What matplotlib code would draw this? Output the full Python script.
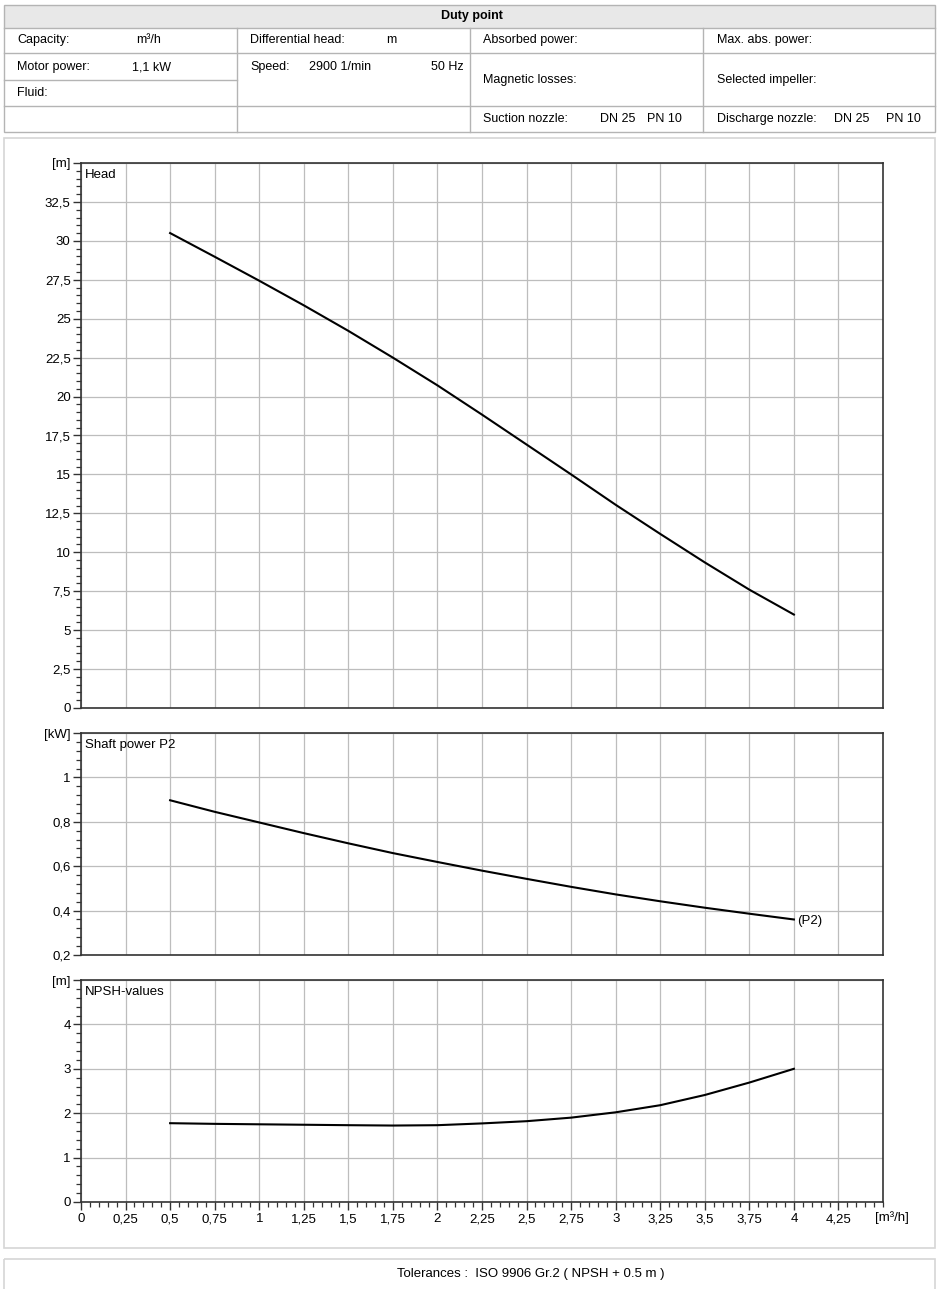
import numpy as np
from matplotlib import pyplot as plt
from matplotlib.patches import Rectangle
from matplotlib.ticker import MultipleLocator, FixedLocator, FixedFormatter

plt.rcParams["font.family"] = ["Liberation Sans", "DejaVu Sans"]
plt.rcParams["font.size"] = 9.5

# Courbes de la pompe (débit en m³/h)
flow = [0.5, 0.75, 1.0, 1.25, 1.5, 1.75, 2.0, 2.25, 2.5, 2.75, 3.0, 3.25, 3.5, 3.75, 4.0]
head = [30.5, 28.98, 27.44, 25.86, 24.22, 22.5, 20.72, 18.84, 16.92, 15.0, 13.05, 11.18, 9.35, 7.6, 6.0]
power_p2 = [0.897, 0.845, 0.797, 0.749, 0.703, 0.659, 0.619, 0.58, 0.543, 0.507, 0.473, 0.442, 0.413, 0.386, 0.36]
npsh = [1.775, 1.76, 1.75, 1.74, 1.73, 1.722, 1.73, 1.77, 1.82, 1.90, 2.02, 2.18, 2.41, 2.69, 3.0]

x_ticks = [0, 0.25, 0.5, 0.75, 1, 1.25, 1.5, 1.75, 2, 2.25, 2.5, 2.75, 3, 3.25, 3.5, 3.75, 4, 4.25]
head_ticks = [0, 2.5, 5, 7.5, 10, 12.5, 15, 17.5, 20, 22.5, 25, 27.5, 30, 32.5, 35]
power_ticks = [0.2, 0.4, 0.6, 0.8, 1.0, 1.2]
npsh_ticks = [0, 1, 2, 3, 4, 5]


def fmt(v):
    return f"{v:g}".replace(".", ",")


fig = plt.figure(figsize=(9.4, 12.89), dpi=100)

# Fond : tableau "Duty point", cadres
bg = fig.add_axes([0, 0, 1, 1], zorder=-1)
bg.set_xlim(0, 940)
bg.set_ylim(1289, 0)
bg.axis("off")

line_c = "#b4b4b4"
bg.add_patch(Rectangle((4, 5), 931, 23, facecolor="#e8e8e8", edgecolor="none"))
bg.add_patch(Rectangle((4, 5), 931, 127, facecolor="none", edgecolor=line_c, lw=1.0))
for y in [28, 53, 106]:
    bg.plot([4, 935], [y, y], color=line_c, lw=1.0)
bg.plot([4, 237], [80, 80], color=line_c, lw=1.0)
for x in [237, 470, 703]:
    bg.plot([x, x], [28, 132], color=line_c, lw=1.0)

bg.text(472, 16.5, "Duty point", ha="center", va="center", fontsize=9, fontweight="bold")
cells = [
    (17, 40, "Capacity:"), (136, 40, "m³/h"), (250, 40, "Differential head:"), (386, 40, "m"),
    (483, 40, "Absorbed power:"), (717, 40, "Max. abs. power:"),
    (17, 67, "Motor power:"), (132, 67, "1,1 kW"), (250, 67, "Speed:"), (309, 67, "2900 1/min"),
    (431, 67, "50 Hz"), (483, 80, "Magnetic losses:"), (717, 80, "Selected impeller:"),
    (17, 93, "Fluid:"),
    (483, 119, "Suction nozzle:"), (600, 119, "DN 25"), (647, 119, "PN 10"),
    (717, 119, "Discharge nozzle:"), (834, 119, "DN 25"), (886, 119, "PN 10"),
]
for x, y, s in cells:
    bg.text(x, y, s, ha="left", va="center", fontsize=9)

bg.add_patch(Rectangle((4, 138), 931, 1110, facecolor="none", edgecolor="#d6d6d6", lw=1.2))
bg.add_patch(Rectangle((4, 1259), 931, 40, facecolor="none", edgecolor="#d6d6d6", lw=1.2))
bg.text(531, 1274, "Tolerances :  ISO 9906 Gr.2 ( NPSH + 0.5 m )", ha="center", va="center", fontsize=9.5)

# Axes des trois diagrammes (positions en pixels)
W, H = 940, 1289
left, right = 81, 883


def make_ax(top, bottom):
    return fig.add_axes([left / W, 1 - bottom / H, (right - left) / W, (bottom - top) / H])


ax_h = make_ax(163, 708)
ax_p = make_ax(733, 955)
ax_n = make_ax(980, 1202)

specs = [
    (ax_h, head, (0, 35), head_ticks, 0.5, "[m]", "Head"),
    (ax_p, power_p2, (0.2, 1.2), power_ticks, 0.04, "[kW]", "Shaft power P2"),
    (ax_n, npsh, (0, 5), npsh_ticks, 0.2, "[m]", "NPSH-values"),
]

for ax, values, ylim, yticks, yminor, unit, title in specs:
    ax.plot(flow, values, color="black", lw=1.5, zorder=3, solid_joinstyle="round")
    ax.set_xlim(0, 4.5)
    ax.set_ylim(*ylim)
    ax.yaxis.set_major_locator(FixedLocator(yticks))
    ax.yaxis.set_major_formatter(FixedFormatter([fmt(v) for v in yticks[:-1]] + [unit]))
    ax.yaxis.set_minor_locator(MultipleLocator(yminor))
    ax.xaxis.set_major_locator(FixedLocator(x_ticks))
    ax.xaxis.set_minor_locator(MultipleLocator(0.05))
    ax.grid(True, which="major", color="#bdbdbd", lw=0.9, zorder=0)
    ax.tick_params(axis="y", which="major", length=6, width=1.0, color="#333333", pad=1.5, labelsize=9.5)
    ax.tick_params(axis="y", which="minor", length=3.5, width=0.9, color="#333333")
    for s in ax.spines.values():
        s.set_color("#333333")
        s.set_linewidth(1.2)
    ax.annotate(title, xy=(0, 1), xycoords="axes fraction", xytext=(3, -4),
                textcoords="offset points", ha="left", va="top", fontsize=9.5)

for ax in (ax_h, ax_p):
    ax.tick_params(axis="x", which="both", length=0, labelbottom=False)

ax_n.xaxis.set_major_formatter(FixedFormatter([fmt(v) for v in x_ticks]))
ax_n.tick_params(axis="x", which="major", length=6, width=1.0, color="#333333", pad=2, labelsize=9.5)
ax_n.tick_params(axis="x", which="minor", length=3.5, width=0.9, color="#333333")
ax_n.annotate("[m³/h]", xy=(4.55, 0), xycoords=ax_n.get_xaxis_transform(), xytext=(0, -6.5),
              textcoords="offset points", ha="center", va="top", fontsize=9.5)

ax_p.annotate("(P2)", xy=(flow[-1], power_p2[-1]), xytext=(2, -1), textcoords="offset points",
              ha="left", va="center", fontsize=9.5)

fig.savefig("out.png", dpi=100)
